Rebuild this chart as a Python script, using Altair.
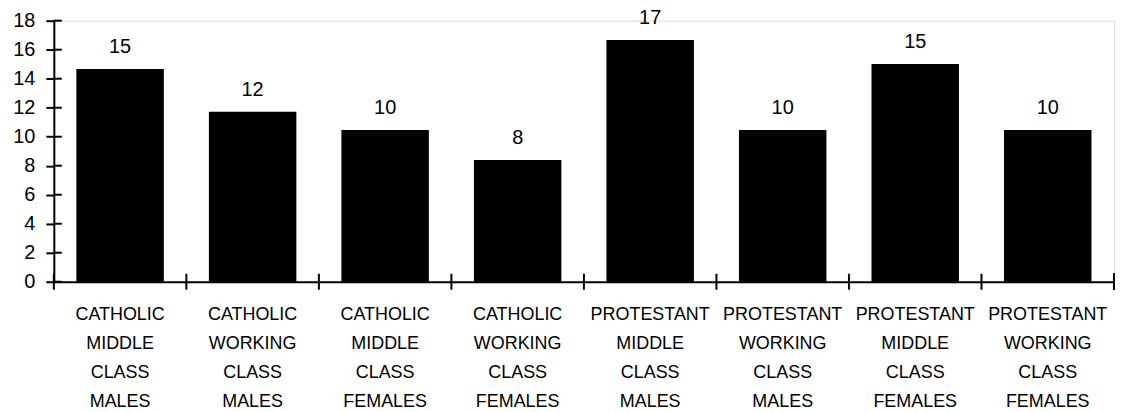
import altair as alt
import pandas as pd

categories = [
    "CATHOLIC MIDDLE CLASS MALES",
    "CATHOLIC WORKING CLASS MALES",
    "CATHOLIC MIDDLE CLASS FEMALES",
    "CATHOLIC WORKING CLASS FEMALES",
    "PROTESTANT MIDDLE CLASS MALES",
    "PROTESTANT WORKING CLASS MALES",
    "PROTESTANT MIDDLE CLASS FEMALES",
    "PROTESTANT WORKING CLASS FEMALES",
]
values = [14.67, 11.72, 10.46, 8.39, 16.67, 10.46, 15.01, 10.46]
value_labels = ["15", "12", "10", "8", "17", "10", "15", "10"]
y_ticks = [0, 2, 4, 6, 8, 10, 12, 14, 16, 18]

df = pd.DataFrame({"cat": categories, "value": values, "label": value_labels})
df_ticks = pd.DataFrame({"t": y_ticks})

W = 1064
H = 262
FONT = "Liberation Sans"
P_INNER = 0.34

xscale = alt.Scale(paddingInner=P_INNER, paddingOuter=P_INNER / 2)
yscale = alt.Scale(domain=[0, 18], nice=False)

x_axis = alt.Axis(
    title=None, labelAngle=0, tickSize=8, tickWidth=2, tickOpacity=0,
    domain=True, domainWidth=2, domainColor="black",
    labelFont=FONT, labelFontSize=18,
    labelColor="black", labelLineHeight=29, labelPadding=16, labelLimit=0,
    labelExpr="split(datum.label, ' ')",
)
y_axis = alt.Axis(
    title=None, values=y_ticks, tickCount=10, tickSize=8, tickWidth=2, tickColor="black",
    domain=True, domainWidth=2, domainColor="black", grid=False,
    labelFont=FONT, labelFontSize=20, labelColor="black",
    labelPadding=11, labelOverlap=False, labelBound=False,
)

X = alt.X("cat:N", sort=None, scale=xscale, axis=x_axis)
Y = alt.Y("value:Q", scale=yscale, axis=y_axis)

base = alt.Chart(df)

bars = base.mark_bar(color="black").encode(x=X, y=Y)

texts = base.mark_text(
    baseline="alphabetic", dy=-16, font=FONT, fontSize=20, color="black"
).encode(x=X, y=Y, text="label:N")

# crossing ticks on the x axis at the band boundaries
step = W / len(categories)
x_ticks = base.mark_rule(color="black", strokeWidth=2, xOffset=-step * P_INNER / 2).encode(
    x=alt.X("cat:N", sort=None, scale=xscale, axis=x_axis, bandPosition=0),
    y=alt.value(H - 8), y2=alt.value(H + 8),
)
x_tick_end = base.mark_rule(color="black", strokeWidth=2).encode(
    x=alt.value(W), y=alt.value(H - 8), y2=alt.value(H + 8),
)
# inner halves of the y ticks
y_inner = alt.Chart(df_ticks).mark_rule(color="black", strokeWidth=2).encode(
    y=alt.Y("t:Q", scale=yscale, axis=y_axis), x=alt.value(0), x2=alt.value(8),
)

chart = alt.layer(bars, texts, x_ticks, x_tick_end, y_inner).properties(
    width=W, height=H,
    autosize=alt.AutoSizeParams(type="none"),
    padding={"left": 46, "top": 12, "right": 1, "bottom": 130},
).configure_view(stroke=None).configure(background="white")

chart.save("out.html", embed_options={"renderer": "svg", "actions": False})
